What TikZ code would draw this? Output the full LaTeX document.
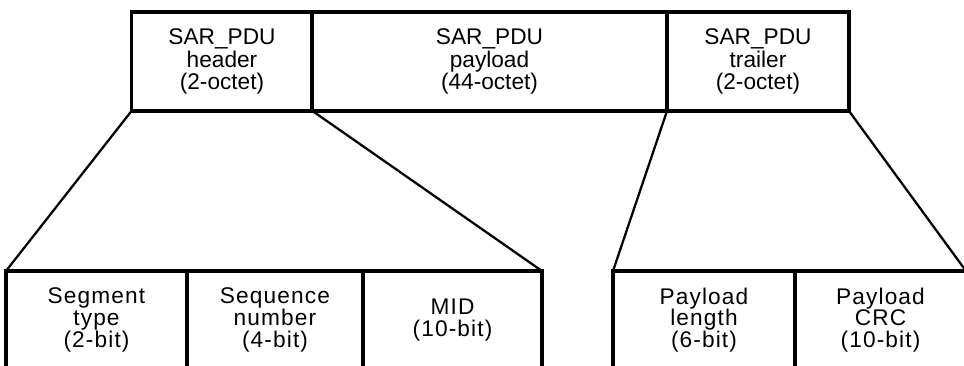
\documentclass[tikz,border=0pt]{standalone}
\usepackage{fontspec}
\setmainfont{Liberation Sans}
\begin{document}
\begin{tikzpicture}[x=0.75pt,y=-0.75pt,
  topbox/.style={draw, line width=2.4pt, inner sep=0pt, outer sep=0pt,
    minimum height=74.25pt, align=center,
    font=\fontsize{17pt}{16.8pt}\selectfont},
  botbox/.style={draw, line width=2.4pt, inner sep=0pt, outer sep=0pt,
    minimum height=73.5pt, align=center,
    font=\fontsize{17pt}{16.2pt}\selectfont\addfontfeatures{LetterSpace=5}},
  link/.style={line width=1.7pt}]
\useasboundingbox (0,0) rectangle (964,366);
% top row
\node[topbox, minimum width=135.75pt] (hdr) at (222,61.5) {SAR\_PDU\\header\\(2-octet)};
\node[topbox, minimum width=266.25pt] (pay) at (489.5,61.5) {SAR\_PDU\\payload\\(44-octet)};
\node[topbox, minimum width=136.5pt] (trl) at (758,61.5) {SAR\_PDU\\trailer\\(2-octet)};
% bottom left group
\node[botbox, minimum width=135.75pt] (seg) at (96.5,320) {Segment\\type\\(2-bit)};
\node[botbox, minimum width=132pt] (seq) at (275,320) {Sequence\\number\\(4-bit)};
\node[botbox, minimum width=134.25pt] (mid) at (452.5,320) {MID\\(10-bit)};
% bottom right group
\node[botbox, minimum width=136.5pt] (plen) at (704,320) {Payload\\length\\(6-bit)};
\node[botbox, minimum width=128.25pt] (pcrc) at (880.5,320) {Payload\\CRC\\(10-bit)};
% connectors
\draw[link] (hdr.south west) -- (seg.north west);
\draw[link] (hdr.south east) -- (mid.north east);
\draw[link] (trl.south west) -- (plen.north west);
\draw[link] (trl.south east) -- (pcrc.north east);
\end{tikzpicture}
\end{document}
